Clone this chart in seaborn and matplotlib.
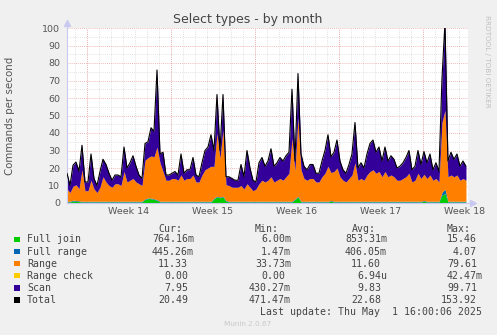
import numpy as np
import matplotlib
matplotlib.use("Agg")
import matplotlib.pyplot as plt
from matplotlib.patches import Rectangle
import seaborn as sns

# Six-hourly averages over the month, one value per sample
total_len_days = 33.42
step_days = 0.25

rng_range = [7, 5, 8, 9, 7, 18, 6, 6, 12, 7, 5, 8, 14, 11, 9, 8, 10, 10, 9, 17,
             11, 12, 13, 11, 10, 9, 22, 23, 24, 24, 30, 22, 17, 12, 12, 13, 13, 12, 15, 12,
             13, 13, 15, 11, 11, 15, 18, 19, 20, 18, 36, 22, 38, 9, 9, 8, 8, 8, 9, 7,
             10, 8, 6, 7, 10, 12, 11, 12, 14, 11, 12, 13, 12, 14, 16, 36, 16, 45, 18, 13,
             12, 13, 13, 11, 11, 14, 16, 20, 16, 17, 19, 14, 12, 11, 13, 15, 22, 12, 13, 12,
             15, 17, 18, 16, 17, 14, 17, 14, 15, 14, 12, 12, 13, 14, 16, 11, 12, 16, 13, 15,
             13, 15, 12, 13, 11, 40, 45, 14, 15, 14, 15, 12, 13, 12]

scan = [9, 4, 12, 13, 10, 14, 5, 5, 15, 6, 4, 9, 10, 10, 7, 4, 5, 5, 5, 14,
        8, 10, 13, 9, 5, 4, 9.6, 9.1, 16.1, 14.6, 44.1, 5, 11, 3, 3, 3, 4, 3, 12, 4,
        5, 5, 10, 4, 3, 7, 11, 12, 18, 9.1, 22.1, 4.6, 20.1, 4.6, 5, 5, 4, 4, 12, 7,
        19, 11, 6, 4, 12, 13, 9, 11, 16, 9, 10, 12, 11, 12, 12, 28, 5.6, 25.1, 9, 7,
        6, 8, 8, 5, 5, 9, 13, 18, 9, 11, 16, 9, 6, 5, 8, 12, 23, 7, 9, 7,
        12, 16, 17, 12, 14, 9, 14, 9, 11, 10, 7, 8, 9, 11, 13, 7, 8, 13, 8, 13,
        9, 12, 6, 9, 6, 25, 50, 9, 13, 10, 12, 8, 10, 8]

full_join = [0.6, 0.6, 1.2, 1.0, 0.8, 0.6, 0.6, 0.6, 0.6, 0.6, 0.6, 0.6, 0.6, 0.6, 0.6, 0.6, 0.6, 0.6, 0.6, 0.6,
             0.6, 0.6, 0.6, 0.6, 0.6, 0.6, 2.0, 2.5, 2.5, 2.0, 1.5, 0.6, 0.6, 0.6, 0.6, 0.6, 0.6, 0.6, 0.6, 0.6,
             0.6, 0.6, 0.6, 0.6, 0.6, 0.6, 0.6, 0.6, 0.6, 2.5, 3.5, 3.0, 3.5, 1.0, 0.6, 0.6, 0.6, 0.6, 0.6, 0.6,
             0.6, 0.6, 0.6, 0.6, 0.6, 0.6, 0.6, 0.6, 0.6, 0.6, 0.6, 0.6, 0.6, 0.6, 0.6, 0.6, 2.0, 3.5, 0.6, 0.6,
             0.6, 0.6, 0.6, 0.6, 0.6, 0.6, 0.6, 0.6, 1.0, 0.6, 0.6, 0.6, 0.6, 0.6, 0.6, 0.6, 0.6, 0.6, 0.6, 0.6,
             0.6, 0.6, 0.6, 0.6, 0.6, 0.6, 0.6, 0.6, 0.6, 0.6, 0.6, 0.6, 0.6, 0.6, 0.6, 0.6, 0.6, 0.6, 0.6, 1.0,
             0.6, 0.6, 0.6, 0.6, 0.6, 4.5, 5.5, 0.6, 0.6, 0.6, 0.6, 0.6, 0.6, 0.6]

full_range = [0.4] * 125 + [1.5, 2.5] + [0.4] * 7

range_check = [0.0] * 134

week_labels = ["Week 14", "Week 15", "Week 16", "Week 17", "Week 18"]
first_monday = 1.667  # days after the left edge

legend_names = ["Full join", "Full range", "Range", "Range check", "Scan", "Total"]
legend_colors = ["#00CC00", "#0066B3", "#FF8000", "#FFCC00", "#330099", "#000000"]
cur_vals = ["764.16m", "445.26m", "11.33", "0.00", "7.95", "20.49"]
min_vals = ["6.00m", "1.47m", "33.73m", "0.00", "430.27m", "471.47m"]
avg_vals = ["853.31m", "406.05m", "11.60", "6.94u", "9.83", "22.68"]
max_vals = ["15.46", "4.07", "79.61", "42.47m", "99.71", "153.92"]

sns.set_theme(style="white")
plt.rcParams["font.family"] = ["DejaVu Sans"]

W, H = 497, 335
fig = plt.figure(figsize=(W / 100, H / 100), dpi=100, facecolor="#F0F0F0")


def fx(px):
    return px / W


def fy(py):
    return 1 - py / H


ax = fig.add_axes([fx(67), fy(203), fx(468) - fx(67), fy(28) - fy(203)])
ax.set_facecolor("white")

t = np.arange(len(scan)) * step_days
layers = [np.array(full_join), np.array(full_range), np.array(rng_range),
          np.array(range_check), np.array(scan)]
base = np.zeros_like(t)
for vals, col in zip(layers, legend_colors[:5]):
    ax.fill_between(t, base, base + vals, color=col, lw=0, zorder=2)
    base = base + vals
total = base
sns.lineplot(x=t, y=total, color="black", lw=0.8, ax=ax, zorder=3)

ax.set_xlim(0, total_len_days)
ax.set_ylim(0, 100)

# grid: dotted, red for major, grey for minor
major_x = first_monday + 7 * np.arange(5)
minor_x = (first_monday % 1) + np.arange(0, 34)
for x in minor_x:
    ax.axvline(x, color="#D8D8D8", lw=0.6, ls=(0, (1, 1.5)), zorder=1)
for x in major_x:
    ax.axvline(x, color="#F0A0A0", lw=0.6, ls=(0, (1, 1.5)), zorder=1)
for y in np.arange(5, 100, 10):
    ax.axhline(y, color="#D8D8D8", lw=0.6, ls=(0, (1, 1.5)), zorder=1)
for y in np.arange(10, 101, 10):
    ax.axhline(y, color="#F0A0A0", lw=0.6, ls=(0, (1, 1.5)), zorder=1)

ax.set_yticks(np.arange(0, 101, 10))
ax.set_yticklabels([str(v) for v in range(0, 101, 10)])
ax.set_xticks(major_x + 3.5)
ax.set_xticklabels(week_labels)
ax.tick_params(axis="both", length=0, labelsize=6.8, colors="#555555")
ax.tick_params(axis="y", pad=5)
ax.tick_params(axis="x", pad=3)

for side in ["top", "right"]:
    ax.spines[side].set_visible(False)
ax.spines["left"].set_color("#C8C8F0")
ax.spines["bottom"].set_color("#C8C8F0")
ax.spines["left"].set_linewidth(0.8)
ax.spines["bottom"].set_linewidth(0.8)
ax.plot([0, 0], [1, 1.03], color="#C8C8F0", lw=0.8, transform=ax.transAxes, clip_on=False)
ax.plot([0], [1.03], marker="^", ms=4, color="#C8C8F0", transform=ax.transAxes, clip_on=False)
ax.plot([1, 1.012], [0, 0], color="#C8C8F0", lw=0.8, transform=ax.transAxes, clip_on=False)
ax.plot([1.012], [0], marker=">", ms=4, color="#C8C8F0", transform=ax.transAxes, clip_on=False)

fig.text(fx(248), fy(20), "Select types - by month", ha="center", va="center",
         fontsize=9, color="#444444")
fig.text(fx(10), fy(116), "Commands per second", ha="center", va="center",
         rotation=90, fontsize=7.4, color="#555555")
fig.text(fx(487), fy(15), "RRDTOOL / TOBI OETIKER", ha="center", va="top",
         rotation=-90, fontsize=5.2, color="#C0C0C0")

mono = "DejaVu Sans Mono"
tc = "#444444"
fs = 7.1
hy = 228.5
fig.text(fx(158), fy(hy), "Cur:", ha="left", va="center", family=mono, fontsize=fs, color=tc)
fig.text(fx(255), fy(hy), "Min:", ha="left", va="center", family=mono, fontsize=fs, color=tc)
fig.text(fx(352), fy(hy), "Avg:", ha="left", va="center", family=mono, fontsize=fs, color=tc)
fig.text(fx(447), fy(hy), "Max:", ha="left", va="center", family=mono, fontsize=fs, color=tc)

col_right = [194, 291, 387, 483]
for i, name in enumerate(legend_names):
    y = 239.5 + i * 12.05
    fig.patches.append(Rectangle((fx(14), fy(y + 2.8)), fx(5.6), fy(0) - fy(5.6),
                                 transform=fig.transFigure, facecolor=legend_colors[i],
                                 edgecolor="none"))
    fig.text(fx(27), fy(y), name, ha="left", va="center", family=mono, fontsize=fs, color=tc)
    for col, vals in zip(col_right, [cur_vals, min_vals, avg_vals, max_vals]):
        s = vals[i]
        xr = col if s[-1].isalpha() else col - 5.96
        fig.text(fx(xr), fy(y), s, ha="right", va="center", family=mono, fontsize=fs, color=tc)

fig.text(fx(482), fy(312), "Last update: Thu May  1 16:00:06 2025", ha="right", va="center",
         family=mono, fontsize=fs, color=tc)
fig.text(fx(248), fy(324), "Munin 2.0.67", ha="center", va="center", fontsize=5.2, color="#C8C8C8")

fig.savefig("out.png", dpi=100, facecolor=fig.get_facecolor())
